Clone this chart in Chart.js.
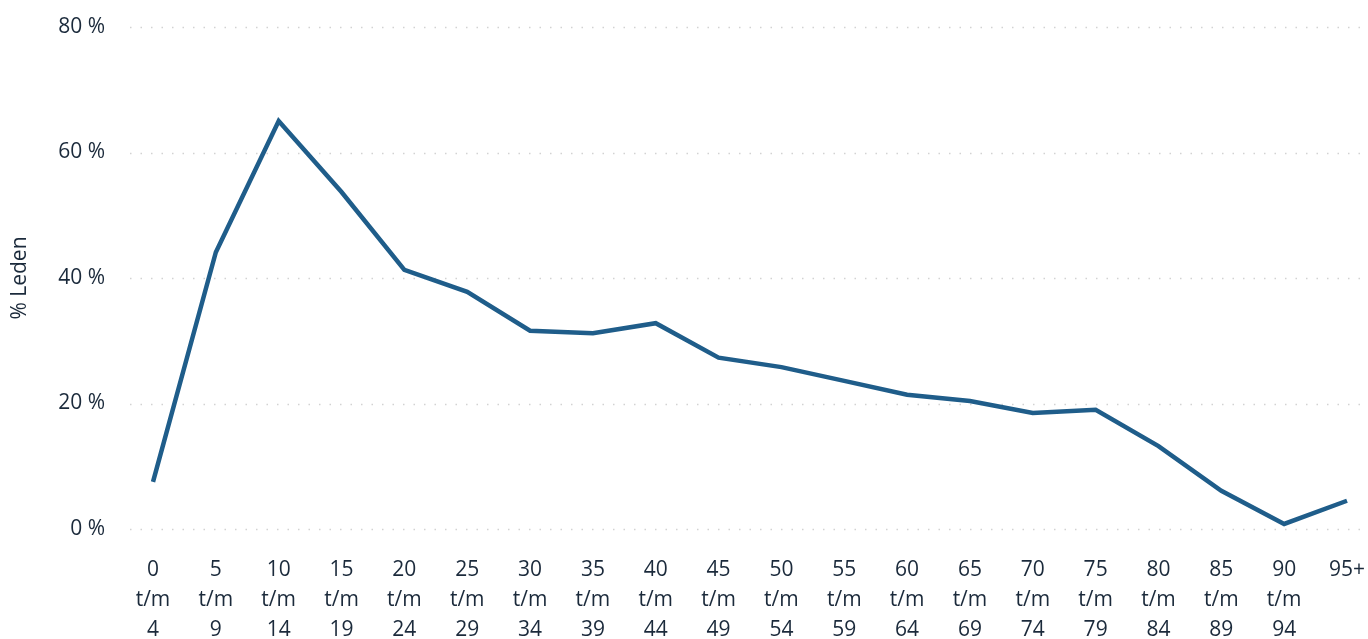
<!DOCTYPE html>
<html>
<head>
<meta charset="utf-8">
<script src="https://cdn.jsdelivr.net/npm/chart.js@4/dist/chart.umd.min.js"></script>
<style>
  html, body { margin: 0; padding: 0; background: #ffffff; }
  #wrap { width: 1368px; height: 639px; }
</style>
</head>
<body>
<div id="wrap"><canvas id="c" width="1368" height="639"></canvas></div>
<script>
const categories = [
  ["0","t/m","4"], ["5","t/m","9"], ["10","t/m","14"], ["15","t/m","19"],
  ["20","t/m","24"], ["25","t/m","29"], ["30","t/m","34"], ["35","t/m","39"],
  ["40","t/m","44"], ["45","t/m","49"], ["50","t/m","54"], ["55","t/m","59"],
  ["60","t/m","64"], ["65","t/m","69"], ["70","t/m","74"], ["75","t/m","79"],
  ["80","t/m","84"], ["85","t/m","89"], ["90","t/m","94"], ["95+"]
];
const ledenPct = [7.5, 44.1, 65.0, 53.7, 41.3, 37.8, 31.6, 31.2, 32.8, 27.3,
                  25.8, 23.6, 21.4, 20.4, 18.5, 19.0, 13.2, 6.1, 0.8, 4.5];
const yTicks = [0, 20, 40, 60, 80];

const textColor = '#1b2a3b';
const fontFamily = '"Open Sans", "Segoe UI", sans-serif';

const dottedGrid = {
  id: 'dottedGrid',
  beforeDatasetsDraw(chart) {
    const ctx = chart.ctx;
    const y = chart.scales.y;
    ctx.save();
    ctx.strokeStyle = '#d2d2d2';
    ctx.lineWidth = 1.5;
    ctx.setLineDash([1.5, 9]);
    yTicks.forEach(v => {
      const py = Math.round(y.getPixelForValue(v)) + 0.5;
      ctx.beginPath();
      ctx.moveTo(130, py);
      ctx.lineTo(chart.width, py);
      ctx.stroke();
    });
    ctx.restore();
  }
};

new Chart(document.getElementById('c'), {
  type: 'line',
  data: {
    labels: categories,
    datasets: [{
      data: ledenPct,
      borderColor: '#1f5d8a',
      borderWidth: 4.5,
      pointRadius: 0,
      tension: 0,
      fill: false
    }]
  },
  options: {
    responsive: false,
    animation: false,
    layout: { padding: { top: 27, right: 21, left: 0, bottom: 0 } },
    plugins: { legend: { display: false }, tooltip: { enabled: false } },
    scales: {
      x: {
        offset: false,
        grid: { display: false, drawTicks: false },
        border: { display: false },
        ticks: {
          color: textColor,
          font: { family: fontFamily, size: 21, lineHeight: 1.42 },
          padding: 26,
          maxRotation: 0,
          autoSkip: false
        },
        afterFit(scale) {
          scale.height = 110;
          scale.paddingLeft = 0; scale.paddingRight = 0;
          scale.paddingTop = 0; scale.paddingBottom = 0;
        }
      },
      y: {
        min: 0,
        max: 80,
        afterBuildTicks(scale) { scale.ticks = yTicks.map(v => ({ value: v })); },
        grid: { display: false, drawTicks: false },
        border: { display: false },
        ticks: {
          color: textColor,
          font: { family: fontFamily, size: 21 },
          padding: 48,
          callback: v => v + ' %'
        },
        title: {
          display: true,
          text: '% Leden',
          color: textColor,
          font: { family: fontFamily, size: 21 },
          padding: { top: 7, bottom: 0 }
        },
        afterFit(scale) {
          scale.width = 153;
          scale.paddingTop = 0; scale.paddingBottom = 0;
          scale.paddingLeft = 0; scale.paddingRight = 0;
        }
      }
    }
  },
  plugins: [dottedGrid]
});
</script>
</body>
</html>
